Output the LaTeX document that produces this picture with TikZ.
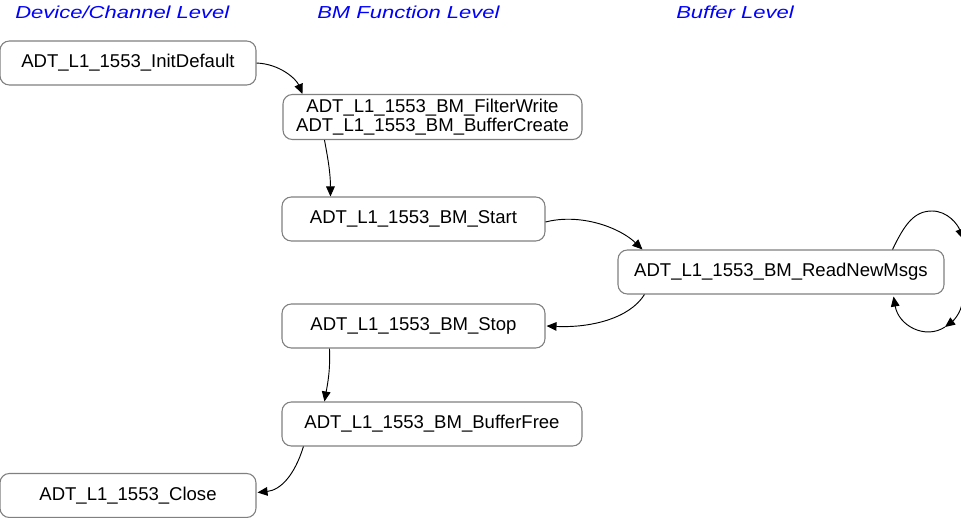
\documentclass[tikz,border=0pt]{standalone}
\usepackage{fontspec}
\setmainfont{Liberation Sans}
\newfontfamily\hdrfont[FakeStretch=1.27]{Liberation Sans}
\usetikzlibrary{arrows.meta,calc}
\definecolor{hdrblue}{RGB}{0,0,255}
\definecolor{boxgray}{RGB}{128,128,128}
\begin{document}
\begin{tikzpicture}[x=0.75pt,y=-0.75pt,
  fn/.style={draw=boxgray,line width=0.8pt,rounded corners=7pt,inner sep=0pt,
    font=\fontsize{13.9}{14.3}\selectfont,align=center,minimum height=33pt},
  hdr/.style={anchor=base west,inner sep=0pt,text=hdrblue,
    font=\hdrfont\itshape\fontsize{13}{15}\selectfont},
  flow/.style={-{Triangle[length=7.5pt,width=6.5pt]},line width=0.7pt}]
\useasboundingbox (0,0) rectangle (961,518);

% headers
\node[hdr] (h1) at (15,18.5) {Device/Channel Level};
\node[hdr] (h2) at (317,18.5) {BM Function Level};
\node[hdr] (h3) at (676,18.5) {Buffer Level};

% nodes
\node[fn,minimum width=192pt] (init) at (128,63) {ADT\_L1\_1553\_InitDefault};
\node[fn,minimum width=224.25pt,minimum height=33.75pt] (fw) at (432.5,117)
  {ADT\_L1\_1553\_BM\_FilterWrite\\ADT\_L1\_1553\_BM\_BufferCreate};
\node[fn,minimum width=197.25pt] (start) at (413.5,219) {ADT\_L1\_1553\_BM\_Start};
\node[fn,minimum width=244.5pt] (read) at (781,272) {ADT\_L1\_1553\_BM\_ReadNewMsgs};
\node[fn,minimum width=197.25pt] (stop) at (413.5,326) {ADT\_L1\_1553\_BM\_Stop};
\node[fn,minimum width=225pt] (bfree) at (432,424) {ADT\_L1\_1553\_BM\_BufferFree};
\node[fn,minimum width=192pt] (close) at (128,495.5) {ADT\_L1\_1553\_Close};

% connectors
\draw[flow] (init.east) .. controls +(24,1) and +(-6,-14.5) .. ($(fw.north west)+(20,0)$);
\draw[flow] ($(fw.south west)+(42,0)$) .. controls +(4,21) and +(0,-22) .. ($(start.north west)+(49,0)$);
\draw[flow] ($(start.east)+(0,3)$) .. controls +(35,-9) and +(-23,-22) .. ($(read.north west)+(25,0)$);
\draw[flow] ($(read.south west)+(27,0)$) .. controls +(-15,24) and +(44,2) .. ($(stop.east)+(1,0)$);
\draw[flow] ($(stop.south west)+(48,0)$) .. controls +(1,22) and +(3,-17) .. ($(bfree.north west)+(43,0)$);
\draw[flow] ($(bfree.south west)+(22,0)$) .. controls +(-9,29) and +(23,-2.5) .. ($(close.east)+(1,-3)$);

% self loop (partly outside the picture)
\coordinate (looptop) at (932,211);
\coordinate (outA) at (963,239);
\coordinate (outB) at (962,303);
\coordinate (loopmid) at (945,327);
\draw[flow] ($(read.north east)+(-52,0)$) .. controls +(12,-25) and +(-18,0) .. (looptop)
  .. controls +(16,0) and +(-5,-14) .. (outA);
\draw[flow] (outB) .. controls +(-1,10) and +(8,-6) .. (loopmid);
\draw[flow] (loopmid) .. controls +(-20,13) and +(5,29) .. ($(read.south east)+(-51,2)$);
\end{tikzpicture}
\end{document}
